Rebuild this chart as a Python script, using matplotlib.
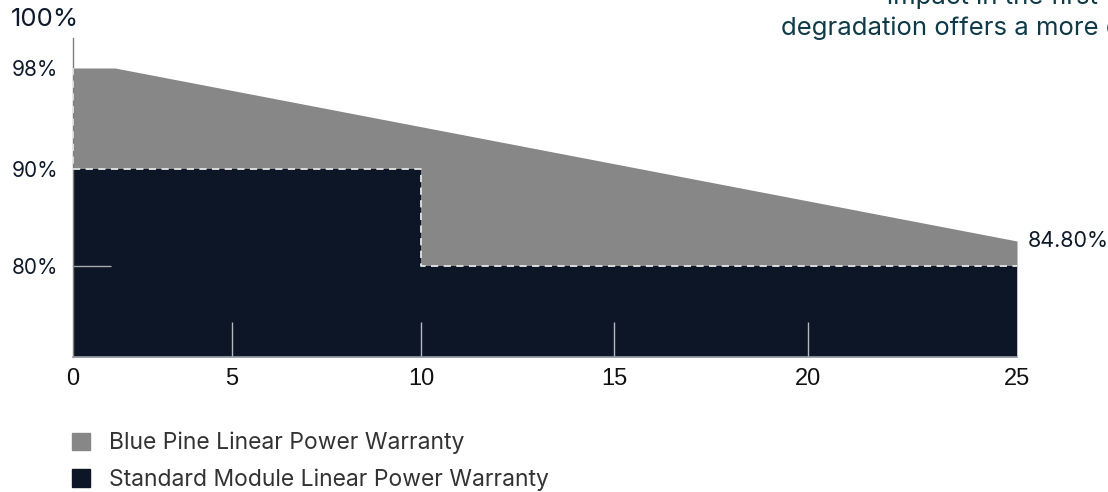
import numpy as np
import matplotlib
matplotlib.use('Agg')
import matplotlib.pyplot as plt
from matplotlib.patches import Patch

# warranty curves (year, guaranteed output %)
bp_years = [0, 1, 25]
bp_power = [98, 98, 84.8]
std_years = [0, 10, 10, 25]
std_power = [90, 90, 80, 80]

x_ticks = [0, 5, 10, 15, 20, 25]
y_ticks = [98, 90, 80]
y_tick_labels = ['98%', '90%', '80%']
labels = ['Blue Pine Linear Power Warranty', 'Standard Module Linear Power Warranty']
note_lines = ['impact in the first', 'degradation offers a more c']

GREY = '#878787'
DARK = '#0d1626'
TEXT = '#0f1a2b'
FONT = 'Inter'

# the original infographic is schematic, not linear: map values through its own spacing
x_vals = [0, 1, 5, 10, 15, 20, 25]
x_pos = [0, 42, 159, 348, 541, 735, 944]
y_vals = [70, 80, 84.8, 90, 98, 100]
y_pos = [0, 91, 116, 188, 289, 319]


def x_fwd(v):
    return np.interp(v, x_vals, x_pos)


def x_inv(p):
    return np.interp(p, x_pos, x_vals)


def y_fwd(v):
    return np.interp(v, y_vals, y_pos)


def y_inv(p):
    return np.interp(p, y_pos, y_vals)


fig = plt.figure(figsize=(11.08, 4.92), dpi=100)
ax = fig.add_axes([73 / 1108, 135 / 492, 944 / 1108, 319 / 492])
ax.set_xscale('function', functions=(x_fwd, x_inv))
ax.set_yscale('function', functions=(y_fwd, y_inv))

ax.fill_between(bp_years, bp_power, 70, color=GREY, lw=0, zorder=0.5)
ax.fill_between(std_years, std_power, 70, color=DARK, lw=0, zorder=0.6)

# dashed outline of the standard warranty step and left edge of the grey band
ax.plot(std_years, std_power, color='#e6e6e6', lw=1.3, ls=(0, (4, 3)), zorder=4)
ax.plot([0, 0], [98, 90], color='#e6e6e6', lw=1.3, ls=(0, (4, 3)), zorder=4)

ax.set_xlim(0, 25)
ax.set_ylim(70, 100)

for s in ['top', 'right']:
    ax.spines[s].set_visible(False)
ax.spines['left'].set_color('#7d7d7d')
ax.spines['left'].set_linewidth(1)
ax.spines['bottom'].set_color('#9a9ea6')
ax.spines['bottom'].set_linewidth(1.2)

ax.set_xticks(x_ticks)
ax.set_xticklabels([str(t) for t in x_ticks], fontsize=17,
                   family='Liberation Sans', color='#111111')
ax.tick_params(axis='x', direction='in', length=25, width=1, color='#b4b8bf', pad=8)
ticks = ax.xaxis.get_major_ticks()
ticks[0].tick1line.set_visible(False)
ticks[-1].tick1line.set_visible(False)

ax.set_yticks(y_ticks)
ax.set_yticklabels(y_tick_labels, fontsize=15, family=FONT, color=TEXT, ha='left')
ax.tick_params(axis='y', direction='in', length=27, width=1, color='#a7a9ad', pad=44)
for t in ax.yaxis.get_major_ticks()[:2]:
    t.tick1line.set_visible(False)

ax.annotate('100%', (0, 100), xytext=(-45, 5), textcoords='offset points',
            ha='left', va='bottom', fontsize=18.5, family=FONT, color=TEXT,
            annotation_clip=False)
ax.annotate('84.80%', (bp_years[-1], bp_power[-1]), xytext=(8, 0),
            textcoords='offset points', ha='left', va='center',
            fontsize=15.5, family=FONT, color=TEXT, annotation_clip=False)

# clipped paragraph in the top-right corner
fig.text(887 / 1108, 1 - 4 / 492, note_lines[0], ha='left', va='baseline',
         fontsize=18.5, family=FONT, color='#0f3a48')
fig.text(781 / 1108, 1 - 35 / 492, note_lines[1], ha='left', va='baseline',
         fontsize=18.5, family=FONT, color='#0f3a48')

handles = [Patch(color=GREY), Patch(color=DARK)]
fig.legend(handles, labels, loc='upper left', bbox_to_anchor=(72 / 1108, 1 - 432 / 492),
           frameon=False, borderpad=0, borderaxespad=0, handlelength=0.8,
           handleheight=0.8, handletextpad=0.8, labelspacing=0.62,
           prop={'family': FONT, 'size': 16.5}, labelcolor='#333333')

fig.savefig('out.png', dpi=100)
